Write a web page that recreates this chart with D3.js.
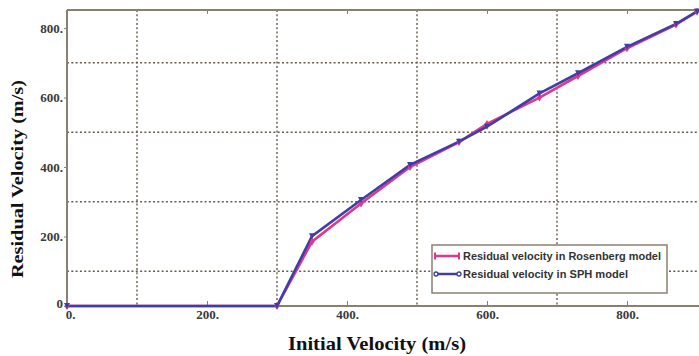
<!DOCTYPE html>
<html><head><meta charset="utf-8">
<script src="https://cdn.jsdelivr.net/npm/d3@7/dist/d3.min.js"></script>
<style>body{margin:0;background:#fff;}svg{display:block;}</style>
</head><body>
<svg id="chart" width="699" height="356"></svg>
<script>
const velocity  = [0, 300, 350, 420, 490, 560, 600, 675, 730, 800, 870, 900];
const rosenberg = [0, 0, 185, 295, 400, 472, 524, 600, 662, 742, 810, 847];
const sph       = [0, 0, 201, 305, 406, 473, 516, 612, 670, 746, 812, 848];
const xTicks = [0, 200, 400, 600, 800];
const yTicks = [0, 200, 400, 600, 800];
const xGrid = [100, 300, 500, 700];
const yGrid = [100, 300, 500, 700];
const seriesNames = ["Residual velocity in Rosenberg model", "Residual velocity in SPH model"];
const xTitle = "Initial Velocity (m/s)";
const yTitle = "Residual Velocity (m/s)";

const svg = d3.select("#chart");
const L = 67, R = 697, T = 10, B = 306;
const x = d3.scaleLinear().domain([0, 900]).range([L, R]);
const y = d3.scaleLinear().domain([0, 852]).range([B, T]);
const axisCol = "#8a8070", gridCol = "#665b4c";
const pink = "#e0378c", blue = "#3e3fa6";

// grid
svg.append("g").selectAll("line").data(xGrid).join("line")
  .attr("x1", d => x(d)).attr("x2", d => x(d)).attr("y1", T).attr("y2", B)
  .attr("stroke", gridCol).attr("stroke-width", 1.4).attr("stroke-dasharray", "2,2.3");
svg.append("g").selectAll("line").data(yGrid).join("line")
  .attr("x1", L).attr("x2", 699).attr("y1", d => y(d)).attr("y2", d => y(d))
  .attr("stroke", gridCol).attr("stroke-width", 1.4).attr("stroke-dasharray", "2,2.3");

// frame
svg.append("line").attr("x1", L).attr("x2", 699).attr("y1", T).attr("y2", T)
  .attr("stroke", axisCol).attr("stroke-width", 2);
svg.append("line").attr("x1", L).attr("x2", L).attr("y1", T).attr("y2", B)
  .attr("stroke", axisCol).attr("stroke-width", 2);
svg.append("line").attr("x1", L).attr("x2", 699).attr("y1", B).attr("y2", B)
  .attr("stroke", axisCol).attr("stroke-width", 2);

// axes
const fmt = d => d + ".";
const xAxis = svg.append("g").attr("transform", `translate(0,${B})`)
  .call(d3.axisBottom(x).tickValues(xTicks).tickFormat(fmt).tickSize(-5).tickPadding(4));
const yAxis = svg.append("g").attr("transform", `translate(${L},0)`)
  .call(d3.axisLeft(y).tickValues(yTicks).tickFormat(fmt).tickSize(3).tickPadding(1));
const topAxis = svg.append("g").attr("transform", `translate(0,${T})`)
  .call(d3.axisBottom(x).tickValues(xTicks.slice(1)).tickFormat("").tickSize(4));
topAxis.select(".domain").remove();
topAxis.selectAll("line").attr("stroke", axisCol);
[xAxis, yAxis].forEach(a => {
  a.select(".domain").remove();
  a.selectAll("line").attr("stroke", axisCol).attr("stroke-width", 1);
  a.selectAll("text").attr("font-family", "Liberation Serif").attr("font-weight", "bold")
   .attr("font-size", 13).attr("fill", "#3a3a3a");
});
xAxis.selectAll(".tick").filter(d => d === 0).select("text").attr("dx", 3);
yAxis.selectAll(".tick").filter(d => d === 0).select("text").attr("dy", "0.1em").text("0");

// lines
const line = d3.line().x((d, i) => x(velocity[i])).y(d => y(d));
svg.append("path").datum(rosenberg).attr("d", line).attr("fill", "none")
  .attr("stroke", pink).attr("stroke-width", 2.6);
svg.append("path").datum(sph).attr("d", line).attr("fill", "none")
  .attr("stroke", blue).attr("stroke-width", 2.6);
svg.append("g").selectAll("path").data(rosenberg).join("path")
  .attr("d", (d, i) => `M${x(velocity[i])},${y(d) - 4}L${x(velocity[i]) + 2.5},${y(d)}L${x(velocity[i])},${y(d) + 4}L${x(velocity[i]) - 2.5},${y(d)}Z`)
  .attr("fill", pink);
svg.append("g").selectAll("path").data(sph).join("path")
  .attr("d", (d, i) => `M${x(velocity[i]) - 3},${y(d) - 3}L${x(velocity[i]) + 3},${y(d) - 3}L${x(velocity[i])},${y(d) + 3}Z`)
  .attr("fill", blue);

// legend
const lg = svg.append("g");
lg.append("rect").attr("x", 432).attr("y", 245).attr("width", 235).attr("height", 48)
  .attr("fill", "#fff").attr("stroke", axisCol).attr("stroke-width", 1.5);
const cols = [pink, blue];
seriesNames.forEach((n, i) => {
  const cy = 256 + i * 18;
  lg.append("line").attr("x1", 435).attr("x2", 459).attr("y1", cy).attr("y2", cy)
    .attr("stroke", cols[i]).attr("stroke-width", 2.5);
  if (i === 0) {
    [435, 459].forEach(px => lg.append("line").attr("x1", px).attr("x2", px)
      .attr("y1", cy - 3.5).attr("y2", cy + 3.5).attr("stroke", pink).attr("stroke-width", 2));
  } else {
    lg.append("circle").attr("cx", 436).attr("cy", cy).attr("r", 2).attr("fill", "#fff").attr("stroke", blue).attr("stroke-width", 1.3);
    lg.append("circle").attr("cx", 459).attr("cy", cy).attr("r", 2).attr("fill", "#fff").attr("stroke", blue).attr("stroke-width", 1.3);
  }
  lg.append("text").attr("x", 463).attr("y", cy + 4).text(n)
    .attr("font-family", "Liberation Sans").attr("font-weight", "bold").attr("font-size", 11.5)
    .attr("fill", "#333").attr("textLength", i === 0 ? 198 : 165).attr("lengthAdjust", "spacingAndGlyphs");
});

// titles
svg.append("text").attr("x", 377).attr("y", 350).attr("text-anchor", "middle").text(xTitle)
  .attr("font-family", "Liberation Serif").attr("font-weight", "bold").attr("font-size", 19).attr("fill", "#111")
  .attr("textLength", 178).attr("lengthAdjust", "spacingAndGlyphs");
svg.append("text").attr("transform", "translate(23,179) rotate(-90)").attr("text-anchor", "middle").text(yTitle)
  .attr("font-family", "Liberation Serif").attr("font-weight", "bold").attr("font-size", 17.5).attr("fill", "#111")
  .attr("textLength", 198).attr("lengthAdjust", "spacingAndGlyphs");
</script>
</body></html>
